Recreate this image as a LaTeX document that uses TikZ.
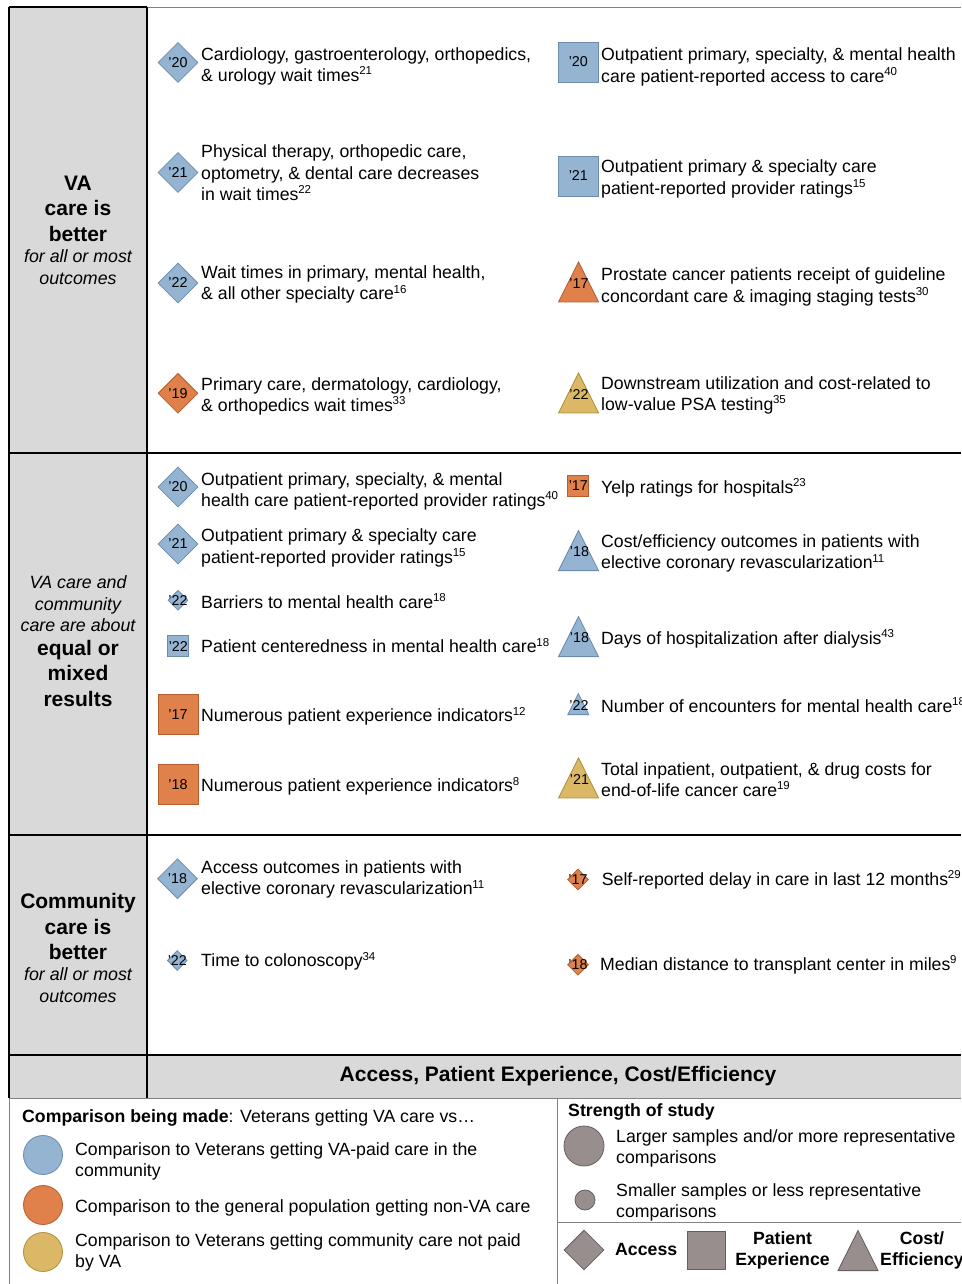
\documentclass[tikz,border=0pt]{standalone}
\usepackage{fontspec}
\setmainfont{Liberation Sans}
\usetikzlibrary{shapes.geometric,positioning}
\definecolor{vapfill}{RGB}{149,180,210}
\definecolor{vapline}{RGB}{108,140,174}
\definecolor{genfill}{RGB}{224,128,74}
\definecolor{genline}{RGB}{182,94,48}
\definecolor{nvafill}{RGB}{219,184,102}
\definecolor{nvaline}{RGB}{176,142,62}
\definecolor{legfill}{RGB}{152,142,142}
\definecolor{legline}{RGB}{102,95,95}
\definecolor{sidegray}{RGB}{217,217,217}
\definecolor{rulegray}{RGB}{130,130,130}
\newcommand{\rf}[1]{\kern-0.3pt\raisebox{6.5pt}{\fontsize{11.5}{11.5}\selectfont #1}}

\begin{document}
\begin{tikzpicture}[x=1pt,y=-1pt]
\tikzset{every node/.style={inner sep=0pt}}
\tikzset{acc/.style={diamond, minimum width=#1, minimum height=#1, line width=0.8pt}, acc/.default=40}
\tikzset{pex/.style={rectangle, minimum size=#1, line width=0.8pt}, pex/.default=40}
\tikzset{cst/.style={isosceles triangle, isosceles triangle stretches, shape border rotate=90,
  minimum width=#1, minimum height=#1, anchor=lower side, line width=0.8pt}, cst/.default=40}
\tikzset{vap/.style={fill=vapfill, draw=vapline}, gen/.style={fill=genfill, draw=genline},
  nva/.style={fill=nvafill, draw=nvaline}, gry/.style={fill=legfill, draw=legline}}
\tikzset{yr/.style={font=\fontsize{14.3}{14.3}\selectfont}}
\tikzset{itm/.style={anchor=north west, align=left, font=\fontsize{17.7}{21.3}\selectfont}}
\tikzset{itm1/.style={anchor=base west, font=\fontsize{17.7}{21.3}\selectfont}}
\tikzset{sidebf/.style={anchor=north, align=center, font=\bfseries\fontsize{21}{25.3}\selectfont}}
\tikzset{sideit/.style={anchor=north, align=center, font=\itshape\fontsize{17.8}{21.7}\selectfont}}
\tikzset{blackrule/.style={line width=1.5pt, black}, greyrule/.style={line width=0.8pt, rulegray}}

\useasboundingbox (0,0) rectangle (961,1284);
\fill[white] (0,0) rectangle (961,1284);

\fill[sidegray] (9,7) rectangle (147,1098);
\fill[sidegray] (147,1055) rectangle (961,1098);
\draw[greyrule] (147,7) -- (961,7);
\draw[greyrule] (9,1098) -- (961,1098);
\draw[greyrule] (9,1098) -- (9,1284);
\draw[greyrule] (557,1098) -- (557,1284);
\draw[greyrule] (557,1222) -- (961,1222);
\draw[blackrule] (9,7) -- (147,7);
\draw[blackrule] (9,7) -- (9,1098);
\draw[blackrule] (147,7) -- (147,1098);
\foreach \y in {453,835,1055}
  \draw[blackrule] (9,\y) -- (961,\y);

% row labels
\node[sidebf] (va1) at (78,176) {VA\\care is\\better};
\node[sideit, below=8pt of va1] (va2) {for all or most\\outcomes};
\node[sideit] (eq1) at (78,575.4) {VA care and\\community\\care are about};
\node[sidebf, below=8pt of eq1] (eq2) {equal or\\mixed\\results};
\node[sidebf] (cc1) at (78,893.3) {Community\\care is\\better};
\node[sideit, below=8pt of cc1] (cc2) {for all or most\\outcomes};

% VA care is better
\node[acc, vap] (l1) at (178,62.5) {};
\node[yr] (l1y) at (l1) {’20};
\node[itm] (l1t) at (201,47) {Cardiology, gastroenterology, orthopedics,\\\& urology wait times\rf{21}};
\node[acc, vap] (l2) at (178,172.5) {};
\node[yr] (l2y) at (l2) {’21};
\node[itm] (l2t) at (201,144.7) {Physical therapy, orthopedic care,\\optometry, \& dental care decreases\\in wait times\rf{22}};
\node[acc, vap] (l3) at (178,283) {};
\node[yr] (l3y) at (l3) {’22};
\node[itm] (l3t) at (201,265.3) {Wait times in primary, mental health,\\\& all other specialty care\rf{16}};
\node[acc, gen] (l4) at (178,393.3) {};
\node[yr] (l4y) at (l4) {’19};
\node[itm] (l4t) at (201,377) {Primary care, dermatology, cardiology,\\\& orthopedics wait times\rf{33}};

\node[pex, vap] (r1) at (578.3,62) {};
\node[yr] (r1y) at (r1) {’20};
\node[itm] (r1t) at (601,47.7) {Outpatient primary, specialty, \& mental health\\care patient-reported access to care\rf{40}};
\node[pex, vap] (r2) at (578.3,176) {};
\node[yr] (r2y) at (r2) {’21};
\node[itm] (r2t) at (601,159.7) {Outpatient primary \& specialty care\\patient-reported provider ratings\rf{15}};
\node[cst, gen] (r3) at (578.5,302.3) {};
\node[yr] (r3y) at (579,283.3) {’17};
\node[itm] (r3t) at (601,267.7) {Prostate cancer patients receipt of guideline\\concordant care \& imaging staging tests\rf{30}};
\node[cst, nva] (r4) at (578.5,413.3) {};
\node[yr] (r4y) at (579,394.3) {’22};
\node[itm] (r4t) at (601,376) {Downstream utilization and cost-related to\\low-value PSA testing\rf{35}};

% equal or mixed results
\node[acc, vap] (m1) at (178,487) {};
\node[yr] (m1y) at (m1) {’20};
\node[itm] (m1t) at (201,472) {Outpatient primary, specialty, \& mental\\health care patient-reported provider ratings\rf{40}};
\node[acc, vap] (m2) at (178,544) {};
\node[yr] (m2y) at (m2) {’21};
\node[itm] (m2t) at (201,528.7) {Outpatient primary \& specialty care\\patient-reported provider ratings\rf{15}};
\node[acc=20, vap] (m3) at (178,600.3) {};
\node[yr] (m3y) at (m3) {’22};
\node[itm1] (m3t) at (201,608.3) {Barriers to mental health care\rf{18}};
\node[pex=21, vap] (m4) at (178.3,646.3) {};
\node[yr] (m4y) at (m4) {’22};
\node[itm1] (m4t) at (201,652.7) {Patient centeredness in mental health care\rf{18}};
\node[pex, gen] (m5) at (178,714.3) {};
\node[yr] (m5y) at (m5) {’17};
\node[itm1] (m5t) at (201,721.7) {Numerous patient experience indicators\rf{12}};
\node[pex, gen] (m6) at (178,784.7) {};
\node[yr] (m6y) at (m6) {’18};
\node[itm1] (m6t) at (201,791.7) {Numerous patient experience indicators\rf{8}};

\node[pex=21, gen] (n1) at (578.3,485.5) {};
\node[yr] (n1y) at (n1) {’17};
\node[itm1] (n1t) at (601,493.3) {Yelp ratings for hospitals\rf{23}};
\node[cst, vap] (n2) at (578.5,571) {};
\node[yr] (n2y) at (579.5,552) {’18};
\node[itm] (n2t) at (601,534.3) {Cost/efficiency outcomes in patients with\\elective coronary revascularization\rf{11}};
\node[cst, vap] (n3) at (578.5,657) {};
\node[yr] (n3y) at (579.5,638) {’18};
\node[itm1] (n3t) at (601,644) {Days of hospitalization after dialysis\rf{43}};
\node[cst=21, vap] (n4) at (578.3,715) {};
\node[yr] (n4y) at (579,706) {’22};
\node[itm1] (n4t) at (601,712.3) {Number of encounters for mental health care\rf{18}};
\node[cst, nva] (n5) at (578.5,798.3) {};
\node[yr] (n5y) at (579.5,779.3) {’21};
\node[itm] (n5t) at (601,762) {Total inpatient, outpatient, \& drug costs for\\end-of-life cancer care\rf{19}};

% community care is better
\node[acc, vap] (c1) at (177.5,878.7) {};
\node[yr] (c1y) at (c1) {’18};
\node[itm] (c1t) at (201,860.3) {Access outcomes in patients with\\elective coronary revascularization\rf{11}};
\node[acc=20, vap] (c2) at (177.3,960.5) {};
\node[yr] (c2y) at (c2) {’22};
\node[itm1] (c2t) at (201,966.7) {Time to colonoscopy\rf{34}};
\node[acc=21, gen] (e1) at (578,879.5) {};
\node[yr] (e1y) at (e1) {’17};
\node[itm1] (e1t) at (601.7,885) {Self-reported delay in care in last 12 months\rf{29}};
\node[acc=21, gen] (e2) at (578,964.8) {};
\node[yr] (e2y) at (e2) {’18};
\node[itm1] (e2t) at (600,970) {Median distance to transplant center in miles\rf{9}};

\node[anchor=base, font=\bfseries\fontsize{21}{25}\selectfont] (hd) at (558,1081.5) {Access, Patient Experience, Cost/Efficiency};

% legend
\node[itm1] (k0) at (22,1122) {\textbf{Comparison being made}: Veterans getting VA care vs…};
\node[circle, minimum size=39, line width=0.8pt, vap] (k1) at (43,1155) {};
\node[itm] (k1t) at (75,1142) {Comparison to Veterans getting VA-paid care in the\\community};
\node[circle, minimum size=39, line width=0.8pt, gen] (k2) at (43,1205) {};
\node[itm1] (k2t) at (75,1212) {Comparison to the general population getting non-VA care};
\node[circle, minimum size=39, line width=0.8pt, nva] (k3) at (43,1252) {};
\node[itm] (k3t) at (75,1233) {Comparison to Veterans getting community care not paid\\by VA};

\node[itm1] (s0) at (568,1116) {\textbf{Strength of study}};
\node[circle, minimum size=40, line width=0.8pt, gry] (g1) at (584,1146) {};
\node[itm] (g1t) at (616,1129) {Larger samples and/or more representative\\comparisons};
\node[circle, minimum size=20, line width=0.8pt, gry] (g2) at (585,1200) {};
\node[itm] (g2t) at (616,1183) {Smaller samples or less representative\\comparisons};
\node[acc, gry] (g3) at (584,1250) {};
\node[itm1, font=\bfseries\fontsize{17.7}{21.3}\selectfont] (g3t) at (615,1255) {Access};
\node[pex=38, gry] (g4) at (706,1250.5) {};
\node[anchor=north, align=center, font=\bfseries\fontsize{17.7}{21.3}\selectfont] (g4t) at (782.5,1231) {Patient\\Experience};
\node[cst, gry] (g5) at (858,1271) {};
\node[anchor=north, align=center, font=\bfseries\fontsize{17.7}{21.3}\selectfont] (g5t) at (922,1231) {Cost/\\Efficiency};
\end{tikzpicture}
\end{document}
